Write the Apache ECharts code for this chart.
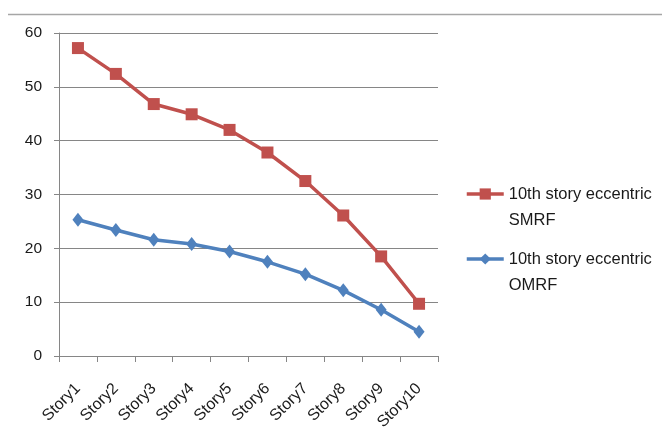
<!DOCTYPE html>
<html>
<head>
<meta charset="utf-8">
<script src="https://cdn.jsdelivr.net/npm/echarts@6/dist/echarts.min.js"></script>
<style>
  html, body { margin: 0; padding: 0; background: #fff; }
  #chart { width: 662px; height: 434px; }
</style>
</head>
<body>
<div id="chart"></div>
<script>
// Story drift values, eccentric loading on the 10th story
const stories = ['Story1', 'Story2', 'Story3', 'Story4', 'Story5', 'Story6', 'Story7', 'Story8', 'Story9', 'Story10'];
const smrfValues = [57.2, 52.4, 46.8, 44.9, 42.0, 37.8, 32.5, 26.1, 18.5, 9.7];
const omrfValues = [25.3, 23.4, 21.6, 20.8, 19.4, 17.5, 15.2, 12.2, 8.6, 4.5];
const seriesNames = ['10th story eccentric\nSMRF', '10th story eccentric\nOMRF'];
const seriesColors = ['#C0504D', '#4F81BD'];

const FONT = 'Liberation Sans';
const chart = echarts.init(document.getElementById('chart'), null, { renderer: 'canvas' });

// one legend block per series, icon aligned with the first text line
function legendFor(name, top) {
  return {
    orient: 'vertical',
    left: 460,
    top: top,
    itemWidth: 37,
    itemHeight: 14,
    itemGap: 0,
    lineStyle: { width: 3.5 },
    formatter: n => '\n' + n,
    textStyle: {
      fontFamily: FONT,
      fontSize: 16.5,
      color: '#1a1a1a',
      lineHeight: 26
    },
    data: [name]
  };
}

chart.setOption({
  animation: false,
  backgroundColor: '#ffffff',
  textStyle: { fontFamily: FONT },
  grid: { left: 59, right: 224, top: 33, bottom: 78, containLabel: false },
  graphic: [
    {
      type: 'line',
      shape: { x1: 8, y1: 14.5, x2: 662, y2: 14.5 },
      style: { stroke: '#a6a6a6', lineWidth: 1.5 },
      silent: true
    }
  ],
  legend: [legendFor(seriesNames[0], 150), legendFor(seriesNames[1], 215)],
  xAxis: {
    type: 'category',
    data: stories,
    boundaryGap: true,
    axisLine: { lineStyle: { color: '#868686', width: 1 } },
    axisTick: { show: true, alignWithLabel: false, length: 6, lineStyle: { color: '#868686' } },
    axisLabel: {
      rotate: 45,
      interval: 0,
      margin: 30,
      fontFamily: FONT,
      fontSize: 16,
      color: '#1a1a1a'
    },
    splitLine: { show: false }
  },
  yAxis: {
    type: 'value',
    min: 0,
    max: 60,
    interval: 10,
    axisLine: { show: true, lineStyle: { color: '#868686', width: 1 } },
    axisTick: { show: true, length: 5, lineStyle: { color: '#868686' } },
    axisLabel: { margin: 17, fontFamily: FONT, fontSize: 15.5, color: '#1a1a1a' },
    splitLine: { show: true, lineStyle: { color: '#868686', width: 1 } }
  },
  series: [
    {
      name: seriesNames[0],
      type: 'line',
      data: smrfValues,
      symbol: 'rect',
      symbolSize: 12,
      lineStyle: { color: seriesColors[0], width: 3.5 },
      itemStyle: { color: seriesColors[0] }
    },
    {
      name: seriesNames[1],
      type: 'line',
      data: omrfValues,
      symbol: 'diamond',
      symbolSize: [11, 14],
      lineStyle: { color: seriesColors[1], width: 3.5 },
      itemStyle: { color: seriesColors[1] }
    }
  ]
});
</script>
</body>
</html>
